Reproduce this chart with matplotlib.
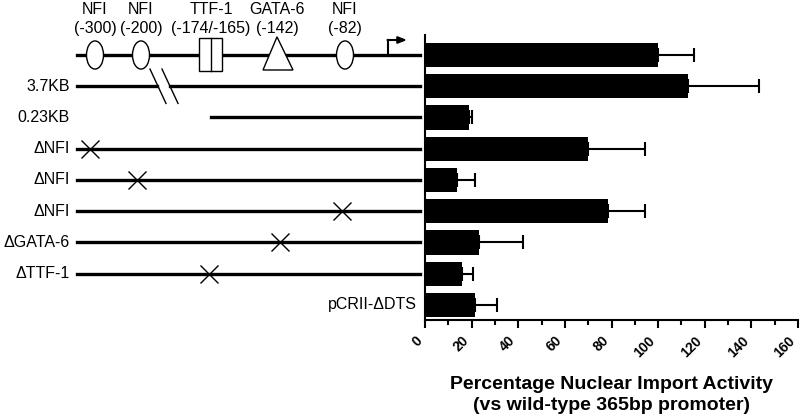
import numpy as np
import matplotlib
matplotlib.use('Agg')
import matplotlib.pyplot as plt
from matplotlib.patches import Ellipse, Rectangle, Polygon

plt.rcParams['font.family'] = ['Liberation Sans', 'DejaVu Sans']

# bar data (top to bottom)
constructs = ['wild-type', '3.7KB', '0.23KB', 'ΔNFI', 'ΔNFI', 'ΔNFI',
              'ΔGATA-6', 'ΔTTF-1', 'pCRII-ΔDTS']
activity = [100, 113, 19, 70, 13.6, 78.7, 23.2, 16, 21.6]
sem = [15.4, 30.3, 1.3, 24.4, 7.8, 15.8, 19, 4.5, 9.2]

# promoter sites
site_names = ['NFI', 'NFI', 'TTF-1', 'GATA-6', 'NFI']
site_coords = ['(-300)', '(-200)', '(-174/-165)', '(-142)', '(-82)']
# which site each deletion row knocks out
deleted_site = {3: 0, 4: 1, 5: 4, 6: 3, 7: 2}

# schematic layout (pixel-ish x units)
site_x = [95, 141, 211, 277, 345]
x_mark = [90, 137, 209, 280, 342]
line_start, line_end = 77, 420

rows = np.arange(len(constructs))

fig = plt.figure(figsize=(8, 4.15), dpi=100)
ax = fig.add_axes([425/800, 1-320/415, 373/800, 285/415])
sch = fig.add_axes([0, 1-320/415, 425/800, 285/415], sharey=ax)

ax.barh(rows, activity, height=0.77, color='black',
        xerr=[np.zeros(len(sem)), sem],
        error_kw=dict(ecolor='black', elinewidth=1.5, capsize=5, capthick=1.5))
ax.set_xlim(0, 160)
ax.set_ylim(8.48, -0.64)
ax.set_xticks(np.arange(0, 161, 20))
ax.set_xticks(np.arange(0, 161, 10), minor=True)
ax.set_xticklabels([str(v) for v in range(0, 161, 20)], rotation=45,
                   ha='right', va='bottom', rotation_mode='anchor',
                   fontweight='bold', fontsize=10)
ax.tick_params(axis='x', which='major', length=6, width=1.5, pad=11)
ax.tick_params(axis='x', which='minor', length=3.6, width=1.5)
ax.tick_params(axis='y', left=False, labelleft=False)
for s in ['top', 'right']:
    ax.spines[s].set_visible(False)
for s in ['left', 'bottom']:
    ax.spines[s].set_linewidth(1.5)
ax.set_xlabel('Percentage Nuclear Import Activity\n(vs wild-type 365bp promoter)',
              fontsize=14, fontweight='bold', linespacing=1.35)
ax.xaxis.set_label_coords(0.5, -0.195)

# schematic
sch.set_xlim(0, 425)
sch.axis('off')
lw = 2.4
# top: full promoter
sch.plot([line_start, line_end], [0, 0], color='black', lw=lw, zorder=1)
for i, (x, nm, co) in enumerate(zip(site_x, site_names, site_coords)):
    sch.text(x, -1.47, nm, ha='center', va='center', fontsize=11.5)
    sch.text(x, -0.86, co, ha='center', va='center', fontsize=11.5)
for i in [0, 1, 4]:
    sch.add_patch(Ellipse((site_x[i], 0), 17, 0.9, facecolor='white',
                          edgecolor='black', lw=1, zorder=2))
sch.add_patch(Rectangle((199, -0.55), 23, 1.06, facecolor='white',
                        edgecolor='black', lw=1, zorder=2))
sch.plot([211, 211], [-0.55, 0.51], color='black', lw=1, zorder=3)
sch.add_patch(Polygon([(263, 0.48), (293, 0.48), (277, -0.58)], closed=True,
                      facecolor='white', edgecolor='black', lw=1, zorder=2))
# transcription start arrow
sch.plot([388, 388], [0, -0.48], color='black', lw=1.5)
sch.annotate('', xy=(407, -0.48), xytext=(387.5, -0.48),
             arrowprops=dict(arrowstyle='-|>,head_length=0.5,head_width=0.2',
                             lw=1.5, color='black', shrinkA=0, shrinkB=0))

# 3.7KB with break
sch.plot([line_start, 157], [1, 1], color='black', lw=lw)
sch.plot([170, line_end], [1, 1], color='black', lw=lw)
sch.plot([150, 166], [0.45, 1.55], color='black', lw=1)
sch.plot([162, 178], [0.45, 1.55], color='black', lw=1)
# 0.23KB
sch.plot([211, line_end], [2, 2], color='black', lw=lw)
# deletion constructs
for r, si in deleted_site.items():
    sch.plot([line_start, line_end], [r, r], color='black', lw=lw, zorder=1)
    sch.plot(x_mark[si], r, marker='x', color='black', markersize=13,
             markeredgewidth=1, zorder=3)

for r, name in enumerate(constructs):
    if r == 0:
        continue
    if r == len(constructs) - 1:
        sch.text(417, r, name, ha='right', va='center', fontsize=11.5)
    else:
        sch.text(70, r, name, ha='right', va='center', fontsize=11.5)

fig.savefig('out.png', dpi=100)
